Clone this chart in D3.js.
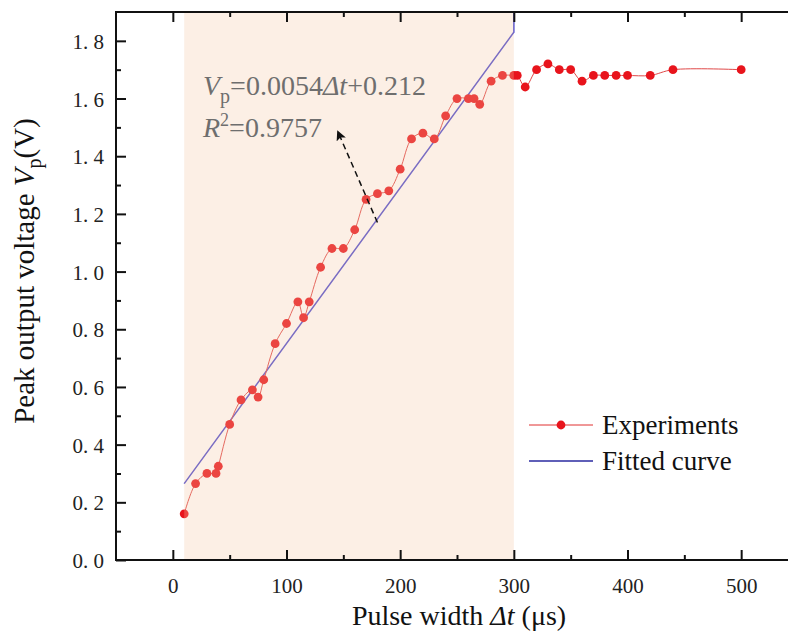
<!DOCTYPE html>
<html>
<head>
<meta charset="utf-8">
<script src="https://cdn.jsdelivr.net/npm/d3@7"></script>
<style>
  body { margin: 0; background: #fff; }
  svg { display: block; }
  text { font-family: "Liberation Serif", "DejaVu Serif", serif; }
</style>
</head>
<body>
<div id="chart"></div>
<script>
// experiments: pulse width (us) and peak output voltage (V)
var expT = [10, 20, 30, 38, 40, 50, 60, 70, 75, 80, 90, 100, 110, 115, 120, 130, 140, 150,
            160, 170, 180, 190, 200, 210, 220, 230, 240, 250, 260, 265, 270, 280, 290, 300,
            303, 310, 320, 330, 340, 350, 360, 370, 380, 390, 400, 420, 440, 500];
var expV = [0.16, 0.265, 0.30, 0.30, 0.325, 0.47, 0.555, 0.59, 0.565, 0.625, 0.75, 0.82, 0.895, 0.84, 0.895, 1.015, 1.08, 1.08,
            1.145, 1.25, 1.27, 1.28, 1.355, 1.46, 1.48, 1.46, 1.54, 1.60, 1.60, 1.60, 1.58, 1.66, 1.68, 1.68,
            1.68, 1.64, 1.70, 1.72, 1.70, 1.70, 1.66, 1.68, 1.68, 1.68, 1.68, 1.68, 1.70, 1.70];

// fitted line as drawn (ends with a vertical stroke at 300 us)
var fitT = [10, 300, 300];
var fitV = [0.265, 1.83, 1.9];

// shaded fitting window
var shadeT = [10, 300];

var xMajor = [0, 100, 200, 300, 400, 500];
var xMinor = [50, 150, 250, 350, 450];
var yMajor = [0, 0.2, 0.4, 0.6, 0.8, 1.0, 1.2, 1.4, 1.6, 1.8];
var yMinor = [0.1, 0.3, 0.5, 0.7, 0.9, 1.1, 1.3, 1.5, 1.7];

var legendNames = ["Experiments", "Fitted curve"];

var W = 788, H = 637;
var mLeft = 116, mTop = 12, mRight = 798, mBottom = 560;

var x = d3.scaleLinear().domain([-50, 550]).range([mLeft, mRight]);
var y = d3.scaleLinear().domain([0, 1.9]).range([mBottom, mTop]);

var svg = d3.select("#chart").append("svg")
    .attr("width", W)
    .attr("height", H);

var exp = expT.map(function(t, i) { return { t: t, v: expV[i] }; });
var fit = fitT.map(function(t, i) { return { t: t, v: fitV[i] }; });

/* fitted line */
svg.append("path")
  .datum(fit)
  .attr("fill", "none")
  .attr("stroke", "#4b4bd0")
  .attr("stroke-width", 1.5)
  .attr("d", d3.line().x(function(d) { return x(d.t); }).y(function(d) { return y(d.v); }));

/* experiment line and points */
svg.append("path")
  .datum(exp)
  .attr("fill", "none")
  .attr("stroke", "#e04848")
  .attr("stroke-width", 1)
  .attr("d", d3.line().curve(d3.curveCatmullRom)
    .x(function(d) { return x(d.t); }).y(function(d) { return y(d.v); }));

svg.selectAll(".pt")
  .data(exp)
  .enter().append("circle")
    .attr("class", "pt")
    .attr("cx", function(d) { return x(d.t); })
    .attr("cy", function(d) { return y(d.v); })
    .attr("r", 4.4)
    .attr("fill", "#e8141c");

/* shaded window, laid over the marks like the original */
svg.append("rect")
  .attr("x", x(shadeT[0]))
  .attr("y", mTop)
  .attr("width", x(shadeT[1]) - x(shadeT[0]))
  .attr("height", mBottom - mTop)
  .attr("fill", "rgb(245,196,160)")
  .attr("fill-opacity", 0.28);

/* axes, ticks pointing inward */
var tickFont = "21px 'Liberation Serif', serif";

var gy = svg.append("g").attr("transform", "translate(" + mLeft + ",0)")
  .call(d3.axisLeft(y).tickValues(yMajor).tickSize(-10).tickPadding(12)
    .tickFormat(function(d) { return d.toFixed(1).replace(".", ". "); }));
svg.append("g").attr("transform", "translate(" + mLeft + ",0)")
  .call(d3.axisLeft(y).tickValues(yMinor).tickSize(-5).tickFormat(""));
svg.append("g").attr("transform", "translate(" + mRight + ",0)")
  .call(d3.axisRight(y).tickValues(yMajor).tickSize(-10).tickFormat(""));
svg.append("g").attr("transform", "translate(" + mRight + ",0)")
  .call(d3.axisRight(y).tickValues(yMinor).tickSize(-5).tickFormat(""));

var gx = svg.append("g").attr("transform", "translate(0," + mBottom + ")")
  .call(d3.axisBottom(x).tickValues(xMajor).tickSize(-10).tickPadding(18));
svg.append("g").attr("transform", "translate(0," + mBottom + ")")
  .call(d3.axisBottom(x).tickValues(xMinor).tickSize(-5).tickFormat(""));
svg.append("g").attr("transform", "translate(0," + mTop + ")")
  .call(d3.axisTop(x).tickValues(xMajor).tickSize(-10).tickFormat(""));
svg.append("g").attr("transform", "translate(0," + mTop + ")")
  .call(d3.axisTop(x).tickValues(xMinor).tickSize(-5).tickFormat(""));

svg.selectAll(".domain").remove();
svg.selectAll(".tick line").attr("stroke", "#111").attr("stroke-width", 2);
svg.selectAll(".tick text").style("font", tickFont).attr("fill", "#222");
gy.selectAll(".tick text").attr("dy", "0.36em");

/* frame */
svg.append("rect")
  .attr("x", mLeft).attr("y", mTop)
  .attr("width", mRight - mLeft).attr("height", mBottom - mTop)
  .attr("fill", "none")
  .attr("stroke", "#111")
  .attr("stroke-width", 2);

/* axis titles */
var xt = svg.append("text")
  .attr("x", 459).attr("y", 625)
  .attr("text-anchor", "middle")
  .style("font-size", "28px")
  .attr("fill", "#111");
xt.append("tspan").text("Pulse width ");
xt.append("tspan").style("font-style", "italic").text("\u0394t");
xt.append("tspan").text(" (\u03bcs)");

var yt = svg.append("text")
  .attr("transform", "translate(34,271) rotate(-90)")
  .attr("text-anchor", "middle")
  .style("font-size", "29px")
  .attr("fill", "#111");
yt.append("tspan").text("Peak output voltage ");
yt.append("tspan").style("font-style", "italic").text("V");
yt.append("tspan").attr("dy", 7).style("font-size", "20px").text("p");
yt.append("tspan").attr("dy", -7).text("(V)");

/* fit equation */
var eq = svg.append("text")
  .attr("x", 203).attr("y", 95)
  .style("font-size", "28px")
  .attr("fill", "#6e6e6e");
eq.append("tspan").style("font-style", "italic").text("V");
eq.append("tspan").attr("dy", 8).style("font-size", "20px").text("p");
eq.append("tspan").attr("dy", -8).text("=0.0054");
eq.append("tspan").style("font-style", "italic").text("\u0394t");
eq.append("tspan").text("+0.212");

var r2 = svg.append("text")
  .attr("x", 203).attr("y", 137)
  .style("font-size", "28px")
  .attr("fill", "#6e6e6e");
r2.append("tspan").style("font-style", "italic").text("R");
r2.append("tspan").attr("dy", -11).style("font-size", "18px").text("2");
r2.append("tspan").attr("dy", 11).text("=0.9757");

/* dashed arrow pointing at the equation */
svg.append("defs").append("marker")
  .attr("id", "head")
  .attr("viewBox", "0 0 10 10")
  .attr("refX", 9).attr("refY", 5)
  .attr("markerWidth", 10).attr("markerHeight", 10)
  .attr("markerUnits", "userSpaceOnUse")
  .attr("orient", "auto")
  .append("path").attr("d", "M0,0L10,5L0,10L2,5Z").attr("fill", "#111");

svg.append("line")
  .attr("x1", x(180)).attr("y1", y(1.17))
  .attr("x2", x(145)).attr("y2", y(1.487))
  .attr("stroke", "#111")
  .attr("stroke-width", 1.5)
  .attr("stroke-dasharray", "6,4")
  .attr("marker-end", "url(#head)");

/* legend */
var lg = svg.append("g").attr("transform", "translate(529,425)");
lg.append("line").attr("x1", 0).attr("x2", 64).attr("y1", 0).attr("y2", 0)
  .attr("stroke", "#e03030").attr("stroke-width", 1);
lg.append("circle").attr("cx", 32).attr("cy", 0).attr("r", 4.4).attr("fill", "#e8141c");
lg.append("line").attr("x1", 0).attr("x2", 64).attr("y1", 36).attr("y2", 36)
  .attr("stroke", "#2a2aa0").attr("stroke-width", 1.5);
lg.selectAll(".lt")
  .data(legendNames)
  .enter().append("text")
    .attr("class", "lt")
    .attr("x", 73)
    .attr("y", function(d, i) { return i * 36 + 9; })
    .style("font-size", "27px")
    .attr("fill", "#111")
    .text(function(d) { return d; });
</script>
</body>
</html>
